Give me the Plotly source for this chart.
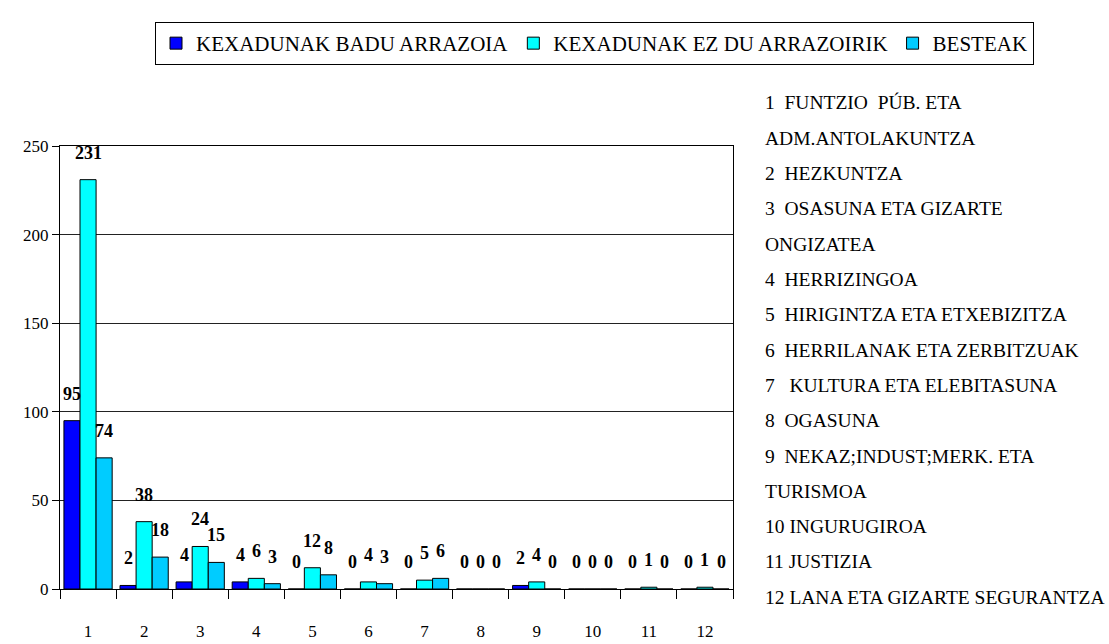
import plotly.graph_objects as go

categories = ["1", "2", "3", "4", "5", "6", "7", "8", "9", "10", "11", "12"]
series_names = ["KEXADUNAK BADU ARRAZOIA", "KEXADUNAK EZ DU ARRAZOIRIK", "BESTEAK"]
badu = [95, 2, 4, 4, 0, 0, 0, 0, 2, 0, 0, 0]
ez_du = [231, 38, 24, 6, 12, 4, 5, 0, 4, 0, 1, 1]
besteak = [74, 18, 15, 3, 8, 3, 6, 0, 0, 0, 0, 0]
series_values = [badu, ez_du, besteak]
colors = ["#0000FF", "#00FFFF", "#00CCFF"]

category_names = [
    ["1  FUNTZIO  PÚB. ETA", "ADM.ANTOLAKUNTZA"],
    ["2  HEZKUNTZA"],
    ["3  OSASUNA ETA GIZARTE", "ONGIZATEA"],
    ["4  HERRIZINGOA"],
    ["5  HIRIGINTZA ETA ETXEBIZITZA"],
    ["6  HERRILANAK ETA ZERBITZUAK"],
    ["7   KULTURA ETA ELEBITASUNA"],
    ["8  OGASUNA"],
    ["9  NEKAZ;INDUST;MERK. ETA", "TURISMOA"],
    ["10 INGURUGIROA"],
    ["11 JUSTIZIA"],
    ["12 LANA ETA GIZARTE SEGURANTZA"],
]

FONT = "Liberation Serif"
W, H = 1109, 644
ML, MR, MT, MB = 60, 376, 146, 55
BARGAP = 0.14
plot_h = H - MT - MB
plot_w = W - ML - MR

fig = go.Figure()
for name, vals, color in zip(series_names, series_values, colors):
    fig.add_bar(x=categories, y=vals, name=name,
                marker=dict(color=color, line=dict(color="black", width=1)))

# data labels above bars
nser = len(series_values)
bw = (1 - BARGAP) / nser
annotations = []
for j, vals in enumerate(series_values):
    off = (j - (nser - 1) / 2) * bw
    for i, v in enumerate(vals):
        annotations.append(dict(
            x=i + off, y=v, xref="x", yref="y", text=f"<b>{v}</b>",
            showarrow=False, yshift=27,
            font=dict(family=FONT, size=18, color="black")))

# side list of category names
line_y0 = 103
line_step = 35.3
k = 0
for lines in category_names:
    for ln in lines:
        ypix = line_y0 + k * line_step
        annotations.append(dict(
            x=(763 - ML) / plot_w, y=(H - MB - ypix) / plot_h,
            xref="paper", yref="paper", xanchor="left", yanchor="middle",
            text=ln.replace("  ", "\u00a0\u00a0"), showarrow=False,
            font=dict(family=FONT, size=19.5, color="black")))
        k += 1

fig.update_layout(
    width=W, height=H,
    margin=dict(l=ML, r=MR, t=MT, b=MB, autoexpand=False),
    paper_bgcolor="white", plot_bgcolor="white",
    barmode="group", bargap=BARGAP, bargroupgap=0,
    font=dict(family=FONT, color="black"),
    legend=dict(orientation="h", xref="paper", yref="paper",
                x=(1034 - ML) / plot_w, xanchor="right",
                y=(H - MB - 22) / plot_h, yanchor="top",
                bordercolor="black", borderwidth=1, bgcolor="white",
                font=dict(family=FONT, size=21, color="black"),
                itemwidth=30, tracegroupgap=0),
    annotations=annotations,
    xaxis=dict(type="category", tickson="boundaries", ticks="outside",
               ticklen=9, tickcolor="black", showline=True, linecolor="black",
               mirror=True, showgrid=False, ticklabelstandoff=27,
               tickfont=dict(family=FONT, size=17, color="black")),
    yaxis=dict(range=[0, 250], dtick=50, ticks="outside", ticklen=7,
               tickcolor="black", showline=True, linecolor="black", mirror=True,
               showgrid=True, gridcolor="#222222", gridwidth=1, zeroline=False,
               tickfont=dict(family=FONT, size=17, color="black")),
)

fig.write_html("out.html", config={"displayModeBar": False},
               post_script="document.body.style.margin='0';")
